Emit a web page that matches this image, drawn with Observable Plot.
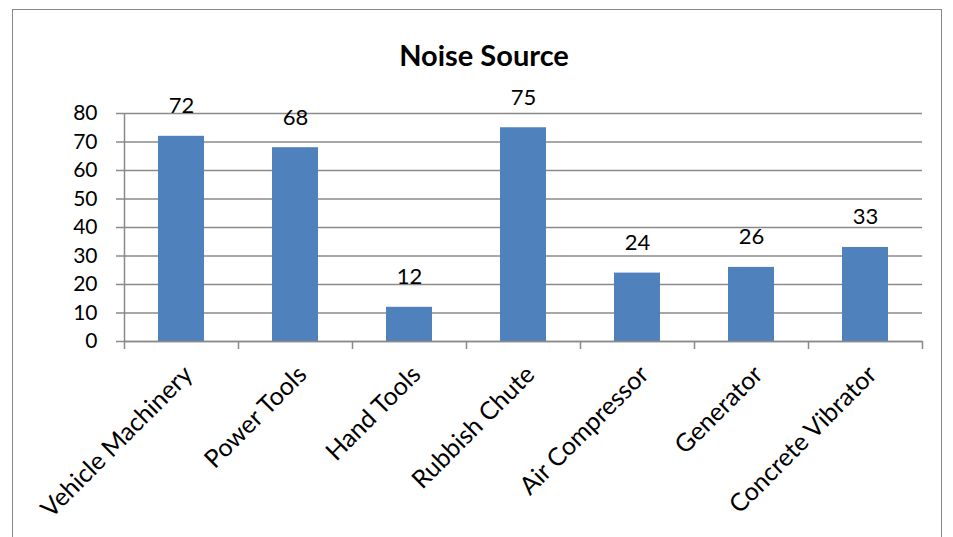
<!DOCTYPE html>
<html>
<head>
<meta charset="utf-8">
<script src="https://cdn.jsdelivr.net/npm/d3@7"></script>
<script src="https://cdn.jsdelivr.net/npm/@observablehq/plot@0.6"></script>
<style>
  html, body { margin: 0; padding: 0; background: #fff; }
  #wrap { position: relative; width: 953px; height: 537px; overflow: hidden; font-family: Lato, "Open Sans", sans-serif; }
  #border { position: absolute; left: 12px; top: 9px; width: 930px; height: 560px; border: 1.5px solid #888; box-sizing: border-box; }
  #title { position: absolute; left: 0; width: 968px; top: 38px; text-align: center; font-weight: bold; font-size: 29px; line-height: 1.2; color: #000; }
  #chart { position: absolute; left: 0; top: 0; }
</style>
</head>
<body>
<div id="wrap">
  <div id="border"></div>
  <div id="title">Noise Source</div>
  <div id="chart"></div>
</div>
<script>
const categories = ["Vehicle Machinery", "Power Tools", "Hand Tools", "Rubbish Chute", "Air Compressor", "Generator", "Concrete Vibrator"];
const values = [72, 68, 12, 75, 24, 26, 33];
const yTicks = [0, 10, 20, 30, 40, 50, 60, 70, 80];

const data = categories.map((c, i) => ({category: c, value: values[i]}));

const W = 953, H = 537;
const mL = 124, mR = 31, mT = 113, mB = 196;
const step = (W - mL - mR) / categories.length;
const gray = "#8a8a8a";
const font = "Lato, 'Open Sans', sans-serif";

const chart = Plot.plot({
  width: W,
  height: H,
  marginLeft: mL,
  marginRight: mR,
  marginTop: mT,
  marginBottom: mB,
  style: {fontFamily: font, background: "transparent", color: "#000", overflow: "visible"},
  x: {domain: categories, paddingInner: 0.6, paddingOuter: 0.3, axis: null},
  y: {domain: [0, 80], axis: null},
  marks: [
    Plot.gridY(yTicks, {stroke: gray, strokeOpacity: 1, strokeWidth: 1.5}),
    Plot.axisY(yTicks, {tickSize: 8, tickPadding: 19, stroke: gray, strokeWidth: 1.5, fontSize: 21, fill: "#000", label: null}),
    Plot.ruleX([categories[0]], {dx: -step / 2, y1: 0, y2: 80, stroke: gray, strokeWidth: 1.5}),
    Plot.barY(data, {x: "category", y: "value", fill: "#4F81BD"}),
    Plot.ruleY([0], {stroke: gray, strokeWidth: 1.5}),
    Plot.axisX(categories, {tickSize: 8, dx: step / 2, text: null, stroke: gray, strokeWidth: 1.5, label: null}),
    Plot.axisX([categories[0]], {tickSize: 8, dx: -step / 2, text: null, stroke: gray, strokeWidth: 1.5, label: null}),
    Plot.text(data, {x: "category", y: "value", text: d => String(d.value), lineAnchor: "bottom", dy: -23, fontSize: 22, fill: "#000"}),
    Plot.text(data, {x: "category", frameAnchor: "bottom", text: "category", rotate: -45, textAnchor: "end", lineAnchor: "middle", dx: 7, dy: 29, fontSize: 25, fill: "#000"})
  ]
});
document.getElementById("chart").appendChild(chart);
</script>
</body>
</html>
